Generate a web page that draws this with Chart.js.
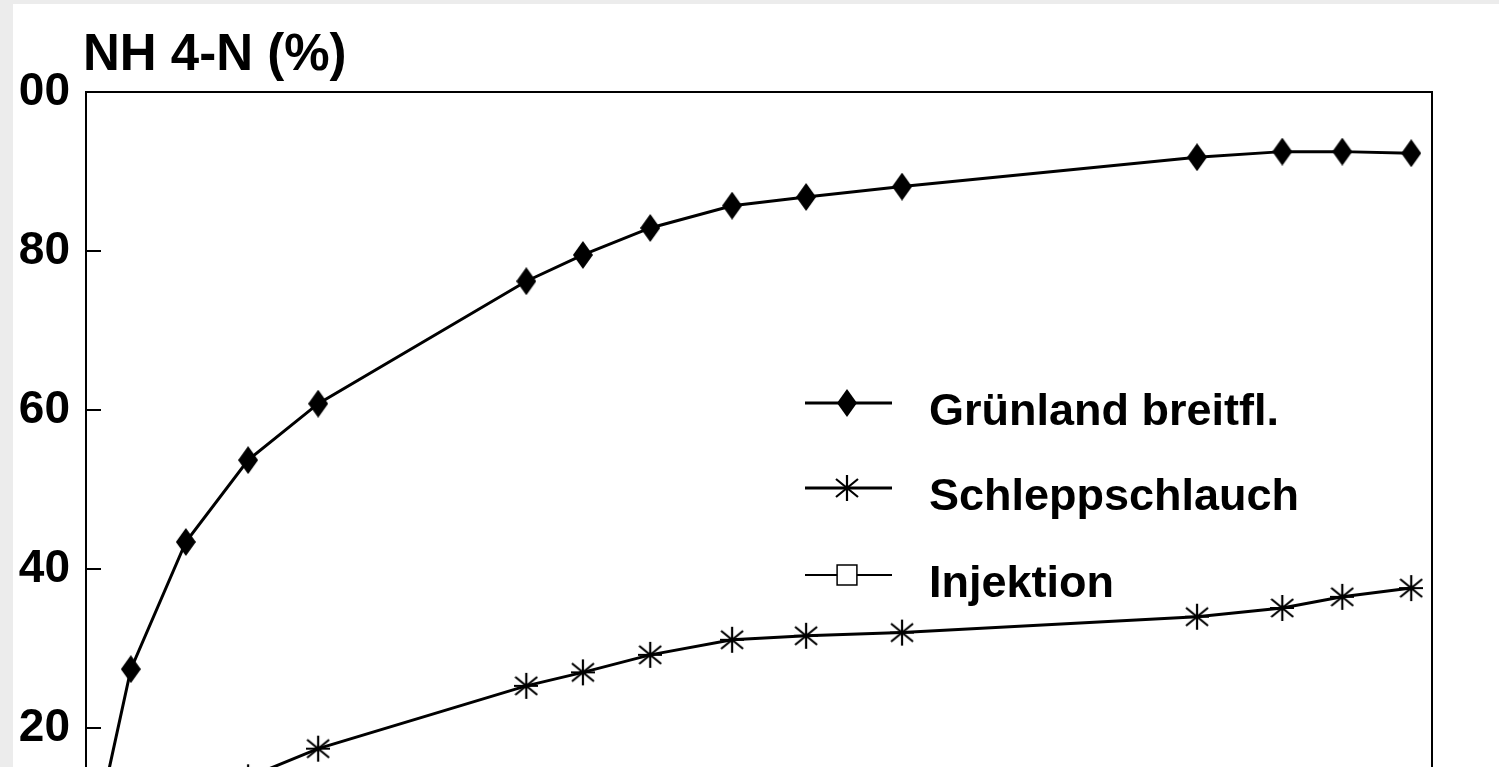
<!DOCTYPE html>
<html>
<head>
<meta charset="utf-8">
<title>NH4-N Verlauf</title>
<script src="https://cdn.jsdelivr.net/npm/chart.js"></script>
<style>
  html, body { margin: 0; padding: 0; background: #ececec; overflow: hidden; }
  .sheet { position: absolute; left: 13px; top: 4px; width: 1486px; height: 763px; overflow: hidden; background: #fff; }
  /* the scan is cropped just left of the "00" of 100 */
  .sheet canvas { position: absolute; left: 0; top: 0; clip-path: inset(0 0 0 6px); }
</style>
</head>
<body>
<div class="sheet">
  <canvas id="nh4Chart" width="1486" height="943"></canvas>
</div>
<script>
// time after spreading (h)
const hours = [0.2, 0.8, 1.78, 2.89, 4.14, 7.85, 8.86, 10.06, 11.52, 12.84, 14.55, 19.81, 21.33, 22.4, 23.63];
const gruenland = [8, 27.4, 43.4, 53.7, 60.8, 76.2, 79.5, 82.9, 85.7, 86.8, 88.1, 91.8, 92.5, 92.5, 92.3];
const schleppschlauch = [2.5, 6, 10, 13.8, 17.4, 25.3, 27.0, 29.2, 31.1, 31.6, 32.0, 34.0, 35.1, 36.5, 37.6];
const injektion = [0.5, 1, 2, 3, 4, 5.5, 6, 6.5, 7, 7.5, 8, 9, 9.5, 10, 10.5];
const yTicks = [0, 20, 40, 60, 80, 100];
const seriesLabels = ['Grünland breitfl.', 'Schleppschlauch', 'Injektion'];
const yLabel = 'NH 4-N (%)';

Chart.defaults.font.family = "'Liberation Sans', Arial, sans-serif";
Chart.defaults.color = '#000';

function makeDiamond(w, h) {
  const c = document.createElement('canvas');
  c.width = w;
  c.height = h;
  const g = c.getContext('2d');
  g.fillStyle = '#000';
  g.beginPath();
  g.moveTo(w / 2, 0);
  g.lineTo(w, h / 2);
  g.lineTo(w / 2, h);
  g.lineTo(0, h / 2);
  g.closePath();
  g.fill();
  return c;
}

function makeAsterisk(w, h) {
  const c = document.createElement('canvas');
  c.width = w;
  c.height = h;
  const g = c.getContext('2d');
  const cx = w / 2, cy = h / 2;
  g.strokeStyle = '#000';
  g.lineWidth = 2.2;
  g.beginPath();
  g.moveTo(cx, 1); g.lineTo(cx, h - 1);
  g.moveTo(1, cy - 9); g.lineTo(w - 1, cy + 9);
  g.moveTo(w - 1, cy - 9); g.lineTo(1, cy + 9);
  g.moveTo(0, cy); g.lineTo(w, cy);
  g.stroke();
  return c;
}

const diamond = makeDiamond(20, 28);
const asterisk = makeAsterisk(24, 28);

function toPoints(values) {
  return values.map((v, i) => ({ x: hours[i], y: v }));
}

// frame, inward ticks, axis title and the legend box inside the plot
const decorations = {
  id: 'decorations',
  afterDraw(chart) {
    const { ctx, chartArea: a, scales } = chart;
    ctx.save();
    ctx.strokeStyle = '#000';
    ctx.lineWidth = 2;
    ctx.strokeRect(a.left, a.top, a.right - a.left, a.bottom - a.top);

    scales.y.ticks.forEach(t => {
      if (t.value <= scales.y.min || t.value >= scales.y.max) return;
      const y = scales.y.getPixelForValue(t.value);
      ctx.beginPath();
      ctx.moveTo(a.left, y);
      ctx.lineTo(a.left + 15, y);
      ctx.stroke();
    });

    ctx.font = 'bold 51px ' + Chart.defaults.font.family;
    ctx.fillStyle = '#000';
    ctx.textAlign = 'left';
    ctx.textBaseline = 'alphabetic';
    ctx.fillText(yLabel, a.left - 3, a.top - 22);

    const rows = [311, 396, 483];
    ctx.font = 'bold 45px ' + Chart.defaults.font.family;
    chart.data.datasets.forEach((ds, i) => {
      const y = a.top + rows[i];
      ctx.strokeStyle = '#000';
      ctx.lineWidth = ds.borderWidth;
      ctx.beginPath();
      ctx.moveTo(a.left + 719, y);
      ctx.lineTo(a.left + 806, y);
      ctx.stroke();
      ctx.fillStyle = ds.pointBackgroundColor;
      ctx.lineWidth = ds.pointBorderWidth;
      Chart.helpers.drawPoint(ctx, {
        pointStyle: ds.pointStyle,
        radius: ds.pointRadius,
        borderWidth: ds.pointBorderWidth,
        rotation: 0
      }, a.left + 761, y);
      ctx.fillStyle = '#000';
      ctx.fillText(ds.label, a.left + 843, y + 22);
    });
    ctx.restore();
  }
};

new Chart(document.getElementById('nh4Chart'), {
  type: 'line',
  data: {
    datasets: [{
      label: seriesLabels[0],
      data: toPoints(gruenland),
      borderColor: '#000',
      borderWidth: 3,
      pointStyle: diamond,
      pointRadius: 12,
      pointBackgroundColor: '#000',
      pointBorderWidth: 0
    }, {
      label: seriesLabels[1],
      data: toPoints(schleppschlauch),
      borderColor: '#000',
      borderWidth: 3,
      pointStyle: asterisk,
      pointRadius: 12,
      pointBackgroundColor: '#000',
      pointBorderColor: '#000',
      pointBorderWidth: 0
    }, {
      label: seriesLabels[2],
      data: toPoints(injektion),
      borderColor: '#000',
      borderWidth: 2,
      pointStyle: 'rect',
      pointRadius: 14,
      pointBackgroundColor: '#fff',
      pointBorderColor: '#000',
      pointBorderWidth: 1.5
    }]
  },
  options: {
    responsive: false,
    animation: false,
    layout: { padding: { left: 0, top: 88, right: 67, bottom: 60 } },
    plugins: {
      legend: { display: false },
      tooltip: { enabled: false }
    },
    scales: {
      x: {
        type: 'linear',
        min: 0,
        max: 24,
        display: false,
        afterFit(s) { s.paddingLeft = 0; s.paddingRight = 0; }
      },
      y: {
        min: 0,
        max: 100,
        grid: { display: false, drawTicks: false },
        border: { display: false },
        afterBuildTicks(s) { s.ticks = yTicks.map(v => ({ value: v })); },
        afterFit(s) { s.width = 73; s.paddingTop = 0; s.paddingBottom = 0; },
        ticks: {
          padding: 16,
          font: { size: 46, weight: 'bold' },
          color: '#000'
        }
      }
    }
  },
  plugins: [decorations]
});
</script>
</body>
</html>
